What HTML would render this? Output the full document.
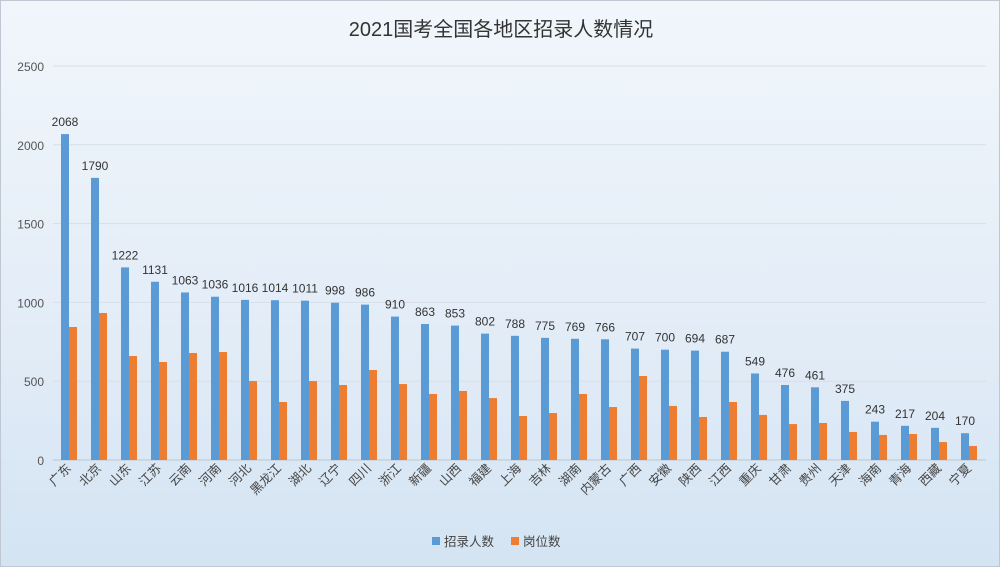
<!DOCTYPE html>
<html><head><meta charset="utf-8"><style>
body{margin:0;width:1000px;height:567px;overflow:hidden;font-family:"Liberation Sans","Noto Sans CJK SC",sans-serif}
#wrap{width:1000px;height:567px;background:linear-gradient(180deg,#f1f6fb 0%,#e2ecf7 60%,#d4e4f3 100%);box-sizing:border-box;border:1px solid #bfc8d2}
</style></head><body>
<div id="wrap">
<svg id="chart" width="1000" height="567"></svg>
</div>
<script>
const categories=["广东","北京","山东","江苏","云南","河南","河北","黑龙江","湖北","辽宁","四川","浙江","新疆","山西","福建","上海","吉林","湖南","内蒙古","广西","安徽","陕西","江西","重庆","甘肃","贵州","天津","海南","青海","西藏","宁夏"];
const recruits=[2068,1790,1222,1131,1063,1036,1016,1014,1011,998,986,910,863,853,802,788,775,769,766,707,700,694,687,549,476,461,375,243,217,204,170];
const positions=[844,933,660,622,679,685,501,368,501,476,571,482,419,438,393,279,298,419,336,533,343,273,368,286,228,235,178,159,165,114,89];
const yTicks=[0,500,1000,1500,2000,2500];
const svg=document.getElementById('chart');
const NS='http://www.w3.org/2000/svg';
const y0=459,yTop=65,yMax=2500,x0=52,step=30;
function y(v){return y0-(v/yMax)*(y0-yTop);}
function xc(i){return x0+step*i+step/2;}
function mk(tag,attrs,txt){const e=document.createElementNS(NS,tag);for(const k in attrs)e.setAttribute(k,attrs[k]);if(txt!=null)e.textContent=txt;svg.appendChild(e);return e;}
let t=mk('text',{x:500,y:35,'text-anchor':'middle','font-size':20,fill:'#333'},'2021国考全国各地区招录人数情况');


yTicks.forEach(v=>{
 let l=mk('line',{x1:x0,x2:985,y1:y(v),y2:y(v),stroke:v===0?'#bcc6d0':'#d6dfe8','stroke-width':1});
 
 
 let tx=mk('text',{x:43,y:y(v)+5,'text-anchor':'end','font-size':12,fill:'#555'},v);
 
 
});
categories.forEach((c,i)=>{
 const cx=xc(i);
 let b=mk('rect',{x:cx-7,y:y(recruits[i]),width:8,height:y0-y(recruits[i]),fill:'#5b9bd5'});
 
 
 let o=mk('rect',{x:cx+1,y:y(positions[i]),width:8,height:y0-y(positions[i]),fill:'#ed7d31'});
 
 
 let v=mk('text',{x:cx-3,y:y(recruits[i])-8,'text-anchor':'middle','font-size':12,fill:'#333'},recruits[i]);
 
 
 let lb=mk('text',{x:cx+4,y:468,'text-anchor':'end','font-size':12.5,fill:'#444',transform:`rotate(-45 ${cx+4} 468)`},c);
 
 
});
let r1=mk('rect',{x:431,y:536,width:8,height:8,fill:'#5b9bd5'});


let l1=mk('text',{x:443,y:545,'font-size':12.5,fill:'#444'},'招录人数');


let r2=mk('rect',{x:510,y:536,width:8,height:8,fill:'#ed7d31'});


let l2=mk('text',{x:522,y:545,'font-size':12.5,fill:'#444'},'岗位数');


</script>
</body></html>
